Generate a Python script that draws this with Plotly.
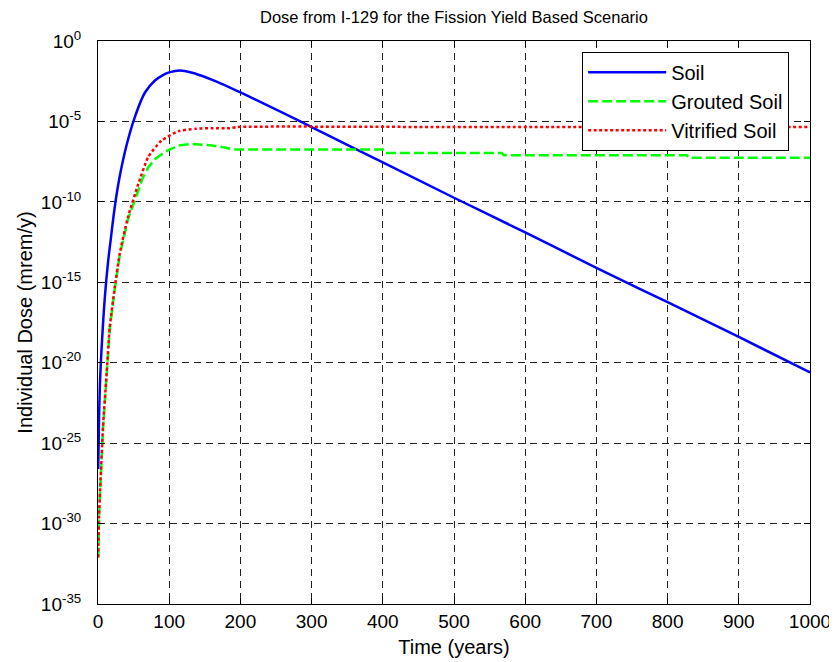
import plotly.graph_objects as go

# ---- data ----
t_soil = [0.3, 1.5, 3, 5.7, 9.5, 14, 18, 23.6, 30.6, 40, 52, 66, 80, 90, 100, 115, 137,
          165, 200, 300, 400, 500, 600, 700, 800, 900, 1000]
dose_soil = [2.5e-27, 4.0e-24, 1.0e-21, 2.5e-19, 1.0e-16, 1.6e-14, 5.0e-13, 5.0e-11, 4.0e-9,
             3.2e-7, 2.0e-5, 6.3e-4, 3.5e-3, 7.1e-3, 1.12e-2, 1.48e-2, 9.3e-3,
             3.2e-3, 6.3e-4, 4.5e-6, 2.8e-8, 1.8e-10, 1.26e-12, 7.9e-15, 5.75e-17, 4.0e-19,
             2.5e-21]

t_grouted = [0.3, 1.5, 3.8, 7, 11.8, 16.5, 23.6, 30.6, 42, 56.5, 63, 70.6, 80, 94, 113, 132,
             160, 176, 190, 400, 402, 567, 570, 827, 830, 1000]
dose_grouted = [7.9e-33, 2.5e-30, 6.3e-28, 7.9e-25, 1.0e-21, 1.26e-18, 4.0e-16, 5.0e-14,
                7.9e-12, 5.0e-10, 3.2e-9, 1.4e-8, 4.5e-8, 1.26e-7, 3.2e-7, 4.0e-7,
                3.2e-7, 2.5e-7, 1.8e-7, 1.8e-7, 1.1e-7, 1.1e-7, 7.9e-8, 7.9e-8, 5.6e-8, 5.6e-8]

t_vitrified = [0.3, 1.5, 3.8, 7, 11.8, 16.5, 23.6, 30.6, 42, 56.5, 70.6, 89, 113, 137, 160,
               185, 195, 500, 1000]
dose_vitrified = [7.9e-33, 3.2e-30, 7.9e-28, 1.0e-24, 1.26e-21, 1.6e-18, 5.0e-16, 6.3e-14,
                  1.1e-11, 1.26e-9, 6.3e-8, 6.3e-7, 2.5e-6, 3.5e-6, 3.8e-6,
                  3.8e-6, 4.5e-6, 4.5e-6, 4.5e-6]

x_ticks = [0, 100, 200, 300, 400, 500, 600, 700, 800, 900, 1000]
y_tick_vals = [1e0, 1e-5, 1e-10, 1e-15, 1e-20, 1e-25, 1e-30, 1e-35]
y_tick_text = ["10<sup>0</sup>", "10<sup>-5</sup>", "10<sup>-10</sup>", "10<sup>-15</sup>",
               "10<sup>-20</sup>", "10<sup>-25</sup>", "10<sup>-30</sup>", "10<sup>-35</sup>"]

FONT = "Liberation Sans, Arial, sans-serif"
W, H = 829, 654   # page body has an 8px default margin

fig = go.Figure()
fig.add_trace(go.Scatter(x=t_soil, y=dose_soil, mode="lines", name="Soil",
                         line=dict(color="#0000FF", width=2.5, shape="spline", smoothing=1.0)))
fig.add_trace(go.Scatter(x=t_grouted, y=dose_grouted, mode="lines", name="Grouted Soil",
                         line=dict(color="#00FF00", width=2.5, dash="10px,4px")))
fig.add_trace(go.Scatter(x=t_vitrified, y=dose_vitrified, mode="lines", name="Vitrified Soil",
                         line=dict(color="#FF0000", width=2.5, dash="3px,2.5px",
                                   shape="spline", smoothing=0.5)))

axis_common = dict(showline=True, linecolor="black", linewidth=1, mirror="allticks",
                   ticks="inside", ticklen=6, tickcolor="black", automargin=False,
                   showgrid=True, gridcolor="#222222", gridwidth=1, griddash="7px,5px",
                   zeroline=False, tickfont=dict(family=FONT, size=19, color="black"))

fig.update_xaxes(range=[0, 1000], tickvals=x_ticks, ticktext=[str(v) for v in x_ticks],
                 title=dict(text="Time (years)", font=dict(family=FONT, size=20, color="black"),
                            standoff=9),
                 **axis_common)
fig.update_yaxes(type="log", range=[-35, 0], tickvals=y_tick_vals, ticktext=y_tick_text,
                 ticklabelstandoff=12,
                 title=dict(text="Individual Dose (mrem/y)",
                            font=dict(family=FONT, size=20, color="black"), standoff=2),
                 **axis_common)

fig.update_layout(
    width=W, height=H,
    margin=dict(l=90, r=27, t=33, b=58, autoexpand=False),
    paper_bgcolor="white", plot_bgcolor="white",
    title=dict(text="Dose from I-129 for the Fission Yield Based Scenario",
               font=dict(family=FONT, size=16.5, color="black"),
               x=0.5, xref="paper", xanchor="center", y=1 - 9 / H, yanchor="middle"),
    legend=dict(x=0.68, xanchor="left", y=0.981, yanchor="top",
                bordercolor="black", borderwidth=1, bgcolor="white",
                font=dict(family=FONT, size=20, color="black"), itemwidth=78),
    showlegend=True,
)

fig.write_html("out.html")
